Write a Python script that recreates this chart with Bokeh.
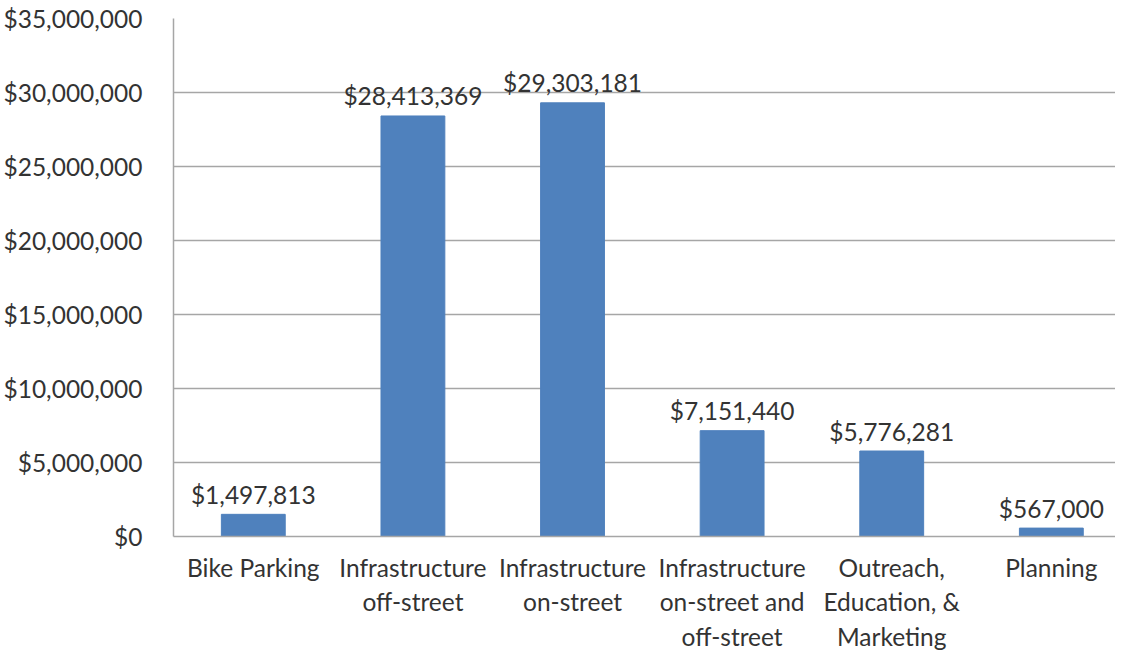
from bokeh.plotting import figure
from bokeh.models import ColumnDataSource, Range1d, FixedTicker, NumeralTickFormatter
from bokeh.embed import file_html
from bokeh.resources import INLINE
from bokeh.core.properties import value

categories = ["Bike Parking", "Infrastructure\noff-street", "Infrastructure\non-street",
              "Infrastructure\non-street and\noff-street", "Outreach,\nEducation, &\nMarketing",
              "Planning"]
amounts = [1497813, 28413369, 29303181, 7151440, 5776281, 567000]
y_ticks = [0, 5000000, 10000000, 15000000, 20000000, 25000000, 30000000, 35000000]

FONT = "Lato"
FS = "24.5px"
TEXT_COLOR = "#333333"
GRID = "#a6a6a6"

xs = list(range(len(categories)))
src = ColumnDataSource(dict(x=xs, top=amounts,
                            label=[f"${v:,}" for v in amounts]))

p = figure(width=1115, height=654, output_backend="svg", toolbar_location=None,
           x_range=Range1d(-0.5, 5.402), y_range=Range1d(0, 35000000),
           min_border_left=173, min_border_right=0, min_border_top=18, min_border_bottom=118)
p.outline_line_color = None
p.background_fill_color = "white"

p.vbar(x="x", top="top", width=0.4, source=src, fill_color="#4f81bd", line_color="#4f81bd")
p.text(x="x", y="top", text="label", source=src, text_align="center", text_baseline="alphabetic",
       y_offset=-20, text_font=value(FONT), text_font_size=FS, text_color=TEXT_COLOR)

p.xaxis.ticker = FixedTicker(ticks=xs)
p.xaxis.major_label_overrides = {i: c for i, c in enumerate(categories)}
p.yaxis.ticker = FixedTicker(ticks=y_ticks)
p.yaxis.formatter = NumeralTickFormatter(format="$0,0")

for ax in (p.xaxis, p.yaxis):
    ax.axis_line_color = GRID
    ax.axis_line_width = 1.5
    ax.major_tick_line_color = None
    ax.minor_tick_line_color = None
    ax.major_label_text_font = FONT
    ax.major_label_text_font_size = FS
    ax.major_label_text_color = TEXT_COLOR
p.yaxis.major_label_standoff = 25
p.xaxis.major_label_standoff = 10

p.xgrid.grid_line_color = None
p.ygrid.grid_line_color = GRID
p.ygrid.grid_line_width = 1.5
p.ygrid.ticker = FixedTicker(ticks=y_ticks)

open("out.html", "w").write(file_html(p, INLINE))
